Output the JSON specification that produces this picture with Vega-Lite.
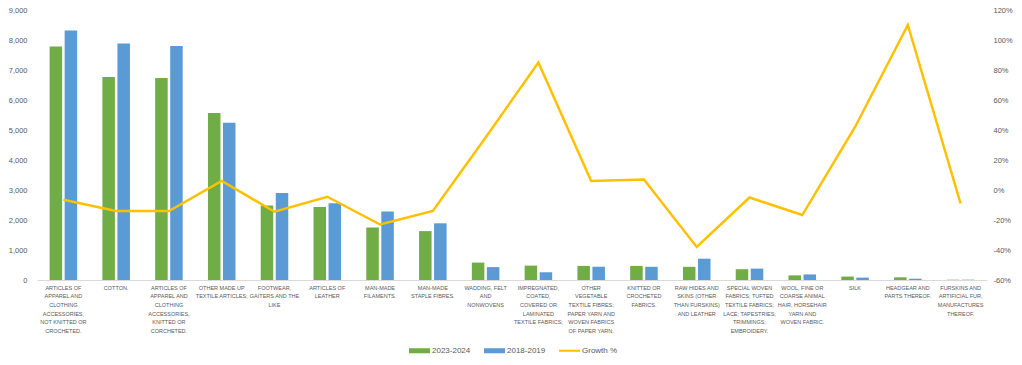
{
  "$schema": "https://vega.github.io/schema/vega-lite/v6.json",
  "autosize": {"type": "none"},
  "width": 950,
  "height": 270,
  "padding": {"left": 37, "top": 10, "right": 35, "bottom": 85},
  "background": "white",
  "config": {"view": {"stroke": null}, "font": "Liberation Sans"},
  "datasets": {
    "bars": [
      {"category": "ARTICLES OF\nAPPAREL AND\nCLOTHING\nACCESSORIES,\nNOT KNITTED OR\nCROCHETED.", "series": "2023-2024", "value": 7780},
      {"category": "ARTICLES OF\nAPPAREL AND\nCLOTHING\nACCESSORIES,\nNOT KNITTED OR\nCROCHETED.", "series": "2018-2019", "value": 8320},
      {"category": "COTTON.", "series": "2023-2024", "value": 6770},
      {"category": "COTTON.", "series": "2018-2019", "value": 7880},
      {"category": "ARTICLES OF\nAPPAREL AND\nCLOTHING\nACCESSORIES,\nKNITTED OR\nCORCHETED.", "series": "2023-2024", "value": 6730},
      {"category": "ARTICLES OF\nAPPAREL AND\nCLOTHING\nACCESSORIES,\nKNITTED OR\nCORCHETED.", "series": "2018-2019", "value": 7800},
      {"category": "OTHER MADE UP\nTEXTILE ARTICLES;", "series": "2023-2024", "value": 5570},
      {"category": "OTHER MADE UP\nTEXTILE ARTICLES;", "series": "2018-2019", "value": 5240},
      {"category": "FOOTWEAR,\nGAITERS AND THE\nLIKE", "series": "2023-2024", "value": 2480},
      {"category": "FOOTWEAR,\nGAITERS AND THE\nLIKE", "series": "2018-2019", "value": 2900},
      {"category": "ARTICLES OF\nLEATHER", "series": "2023-2024", "value": 2430},
      {"category": "ARTICLES OF\nLEATHER", "series": "2018-2019", "value": 2560},
      {"category": "MAN-MADE\nFILAMENTS.", "series": "2023-2024", "value": 1750},
      {"category": "MAN-MADE\nFILAMENTS.", "series": "2018-2019", "value": 2280},
      {"category": "MAN-MADE\nSTAPLE FIBRES.", "series": "2023-2024", "value": 1630},
      {"category": "MAN-MADE\nSTAPLE FIBRES.", "series": "2018-2019", "value": 1890},
      {"category": "WADDING, FELT\nAND\nNONWOVENS", "series": "2023-2024", "value": 580},
      {"category": "WADDING, FELT\nAND\nNONWOVENS", "series": "2018-2019", "value": 430},
      {"category": "IMPREGNATED,\nCOATED,\nCOVERED OR\nLAMINATED\nTEXTILE FABRICS;", "series": "2023-2024", "value": 480},
      {"category": "IMPREGNATED,\nCOATED,\nCOVERED OR\nLAMINATED\nTEXTILE FABRICS;", "series": "2018-2019", "value": 260},
      {"category": "OTHER\nVEGETABLE\nTEXTILE FIBRES;\nPAPER YARN AND\nWOVEN FABRICS\nOF PAPER YARN.", "series": "2023-2024", "value": 470},
      {"category": "OTHER\nVEGETABLE\nTEXTILE FIBRES;\nPAPER YARN AND\nWOVEN FABRICS\nOF PAPER YARN.", "series": "2018-2019", "value": 443},
      {"category": "KNITTED OR\nCROCHETED\nFABRICS.", "series": "2023-2024", "value": 470},
      {"category": "KNITTED OR\nCROCHETED\nFABRICS.", "series": "2018-2019", "value": 440},
      {"category": "RAW HIDES AND\nSKINS (OTHER\nTHAN FURSKINS)\nAND LEATHER", "series": "2023-2024", "value": 440},
      {"category": "RAW HIDES AND\nSKINS (OTHER\nTHAN FURSKINS)\nAND LEATHER", "series": "2018-2019", "value": 710},
      {"category": "SPECIAL WOVEN\nFABRICS; TUFTED\nTEXTILE FABRICS;\nLACE; TAPESTRIES;\nTRIMMINGS;\nEMBROIDERY.", "series": "2023-2024", "value": 360},
      {"category": "SPECIAL WOVEN\nFABRICS; TUFTED\nTEXTILE FABRICS;\nLACE; TAPESTRIES;\nTRIMMINGS;\nEMBROIDERY.", "series": "2018-2019", "value": 380},
      {"category": "WOOL, FINE OR\nCOARSE ANIMAL\nHAIR, HORSEHAIR\nYARN AND\nWOVEN FABRIC.", "series": "2023-2024", "value": 155},
      {"category": "WOOL, FINE OR\nCOARSE ANIMAL\nHAIR, HORSEHAIR\nYARN AND\nWOVEN FABRIC.", "series": "2018-2019", "value": 186},
      {"category": "SILK", "series": "2023-2024", "value": 115},
      {"category": "SILK", "series": "2018-2019", "value": 80},
      {"category": "HEADGEAR AND\nPARTS THEREOF.", "series": "2023-2024", "value": 90},
      {"category": "HEADGEAR AND\nPARTS THEREOF.", "series": "2018-2019", "value": 43},
      {"category": "FURSKINS AND\nARTIFICIAL FUR,\nMANUFACTURES\nTHEREOF.", "series": "2023-2024", "value": 10},
      {"category": "FURSKINS AND\nARTIFICIAL FUR,\nMANUFACTURES\nTHEREOF.", "series": "2018-2019", "value": 11}
    ],
    "growth": [
      {"category": "ARTICLES OF\nAPPAREL AND\nCLOTHING\nACCESSORIES,\nNOT KNITTED OR\nCROCHETED.", "series": "Growth %", "growth": -0.065},
      {"category": "COTTON.", "series": "Growth %", "growth": -0.14},
      {"category": "ARTICLES OF\nAPPAREL AND\nCLOTHING\nACCESSORIES,\nKNITTED OR\nCORCHETED.", "series": "Growth %", "growth": -0.14},
      {"category": "OTHER MADE UP\nTEXTILE ARTICLES;", "series": "Growth %", "growth": 0.06},
      {"category": "FOOTWEAR,\nGAITERS AND THE\nLIKE", "series": "Growth %", "growth": -0.145},
      {"category": "ARTICLES OF\nLEATHER", "series": "Growth %", "growth": -0.045},
      {"category": "MAN-MADE\nFILAMENTS.", "series": "Growth %", "growth": -0.23},
      {"category": "MAN-MADE\nSTAPLE FIBRES.", "series": "Growth %", "growth": -0.14},
      {"category": "WADDING, FELT\nAND\nNONWOVENS", "series": "Growth %", "growth": 0.35},
      {"category": "IMPREGNATED,\nCOATED,\nCOVERED OR\nLAMINATED\nTEXTILE FABRICS;", "series": "Growth %", "growth": 0.85},
      {"category": "OTHER\nVEGETABLE\nTEXTILE FIBRES;\nPAPER YARN AND\nWOVEN FABRICS\nOF PAPER YARN.", "series": "Growth %", "growth": 0.06},
      {"category": "KNITTED OR\nCROCHETED\nFABRICS.", "series": "Growth %", "growth": 0.07},
      {"category": "RAW HIDES AND\nSKINS (OTHER\nTHAN FURSKINS)\nAND LEATHER", "series": "Growth %", "growth": -0.38},
      {"category": "SPECIAL WOVEN\nFABRICS; TUFTED\nTEXTILE FABRICS;\nLACE; TAPESTRIES;\nTRIMMINGS;\nEMBROIDERY.", "series": "Growth %", "growth": -0.05},
      {"category": "WOOL, FINE OR\nCOARSE ANIMAL\nHAIR, HORSEHAIR\nYARN AND\nWOVEN FABRIC.", "series": "Growth %", "growth": -0.167},
      {"category": "SILK", "series": "Growth %", "growth": 0.42},
      {"category": "HEADGEAR AND\nPARTS THEREOF.", "series": "Growth %", "growth": 1.1},
      {"category": "FURSKINS AND\nARTIFICIAL FUR,\nMANUFACTURES\nTHEREOF.", "series": "Growth %", "growth": -0.09}
    ]
  },
  "layer": [
    {
      "data": {"name": "bars"},
      "mark": {"type": "bar"},
      "encoding": {
        "x": {
          "field": "category", "type": "nominal", "sort": null,
          "scale": {"paddingInner": 0, "paddingOuter": 0},
          "axis": {
            "title": null, "labelAngle": 0,
            "labelExpr": "split(datum.label, '\\n')",
            "labelFont": "Liberation Sans",
            "labelFontSize": 5.5, "labelColor": "#595959",
            "labelLineHeight": 8.7, "labelPadding": 5,
            "labelAlign": "center", "labelBaseline": "top",
            "labelLimit": 300, "labelOverlap": false, "labelFlush": false,
            "ticks": false, "domainColor": "#D9D9D9", "domainWidth": 1
          }
        },
        "xOffset": {
          "field": "series", "type": "nominal",
          "scale": {"domain": ["2023-2024", "2018-2019"], "paddingInner": 0.167, "paddingOuter": 0.84}
        },
        "y": {
          "field": "value", "type": "quantitative",
          "scale": {"domain": [0, 9000], "nice": false},
          "axis": {
            "title": null, "values": [0, 1000, 2000, 3000, 4000, 5000, 6000, 7000, 8000, 9000],
            "format": ",.0f", "labelFontSize": 7.5, "labelColor": "#595959",
            "ticks": false, "domain": false, "grid": false, "labelPadding": 10
          }
        },
        "color": {
          "field": "series", "type": "nominal",
          "scale": {"domain": ["2023-2024", "2018-2019", "Growth %"], "range": ["#70AD47", "#5B9BD5", "#FFC000"]},
          "legend": {
            "orient": "none", "legendX": 372, "legendY": 330, "direction": "horizontal",
            "title": null, "labelFontSize": 8, "labelColor": "#595959",
            "symbolSize": 441, "labelOffset": 2, "columnPadding": 13,
            "symbolStrokeWidth": 0,
            "encode": {
              "symbols": {
                "update": {
                  "shape": {"signal": "datum.value === 'Growth %' ? 'M-1,-0.1L1,-0.1L1,0.1L-1,0.1Z' : 'M-1,-0.24L1,-0.24L1,0.24L-1,0.24Z'"},
                  "fill": {"scale": "color", "field": "value"},
                  "fillOpacity": {"value": 1}
                }
              }
            }
          }
        }
      }
    },
    {
      "data": {"name": "growth"},
      "mark": {"type": "line", "strokeWidth": 2.5},
      "encoding": {
        "x": {"field": "category", "type": "nominal", "sort": null},
        "y": {
          "field": "growth", "type": "quantitative",
          "scale": {"domain": [-0.6, 1.2], "nice": false},
          "axis": {
            "orient": "right", "title": null,
            "values": [-0.6, -0.4, -0.2, 0, 0.2, 0.4, 0.6, 0.8, 1, 1.2],
            "format": ".0%", "labelExpr": "replace(datum.label, '\u2212', '-')",
            "labelFontSize": 7.5, "labelColor": "#595959",
            "ticks": false, "domain": false, "grid": false, "labelPadding": 6
          }
        },
        "color": {"field": "series", "type": "nominal"}
      }
    }
  ],
  "resolve": {"scale": {"y": "independent"}}
}
